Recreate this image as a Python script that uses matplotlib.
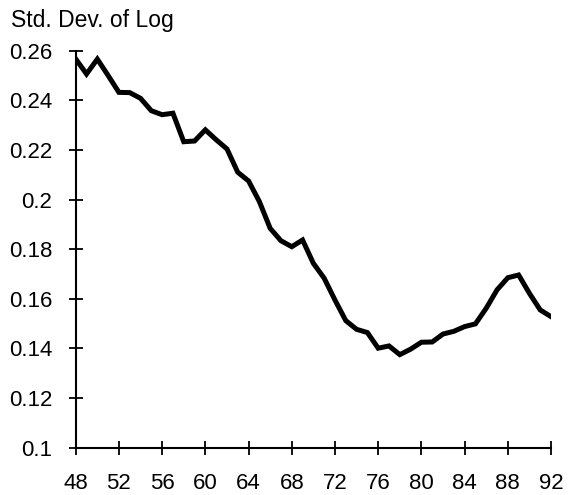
import matplotlib
matplotlib.use("Agg")
import matplotlib.pyplot as plt

years = list(range(48, 93))
std_log = [0.2567, 0.2506, 0.2566, 0.2500, 0.2432, 0.2431, 0.2408, 0.2358, 0.2342, 0.2348,
           0.2233, 0.2236, 0.2281, 0.2241, 0.2204, 0.2110, 0.2075, 0.1992, 0.1884, 0.1834,
           0.1810, 0.1837, 0.1743, 0.1683, 0.1595, 0.1512, 0.1477, 0.1464, 0.1401, 0.1410,
           0.1375, 0.1397, 0.1425, 0.1426, 0.1458, 0.1469, 0.1488, 0.1499, 0.1562, 0.1636,
           0.1685, 0.1696, 0.1622, 0.1555, 0.1528]
xticks = list(range(48, 93, 4))
yticks = [0.1, 0.12, 0.14, 0.16, 0.18, 0.2, 0.22, 0.24, 0.26]
ytick_labels = ["0.1", "0.12", "0.14", "0.16", "0.18", "0.2", "0.22", "0.24", "0.26"]

plt.rcParams['font.family'] = ['Liberation Sans', 'DejaVu Sans']

fig = plt.figure(figsize=(5.74, 4.95), dpi=100)
ax = fig.add_axes([0.1319, 0.0956, 0.96 - 0.1319, 0.8976 - 0.0956])
ax.plot(years, std_log, color='black', linewidth=3.6, solid_joinstyle='miter')
ax.set_xlim(48, 92)
ax.set_ylim(0.1, 0.26)
ax.set_xticks(xticks)
ax.set_xticklabels([str(t) for t in xticks])
ax.set_yticks(yticks)
ax.set_yticklabels(ytick_labels)
for s in ['top', 'right']:
    ax.spines[s].set_visible(False)
for s in ['left', 'bottom']:
    ax.spines[s].set_linewidth(1.5)
    ax.spines[s].set_clip_on(False)
ax.tick_params(direction='inout', length=10, width=1.3, labelsize=16)
ax.tick_params(axis='y', pad=12)
ax.tick_params(axis='x', pad=13)
fig.text(11 / 574, 1 - 27 / 495, "Std. Dev. of Log", fontsize=16.5, ha='left', va='baseline')
fig.savefig("out.png", dpi=100)
